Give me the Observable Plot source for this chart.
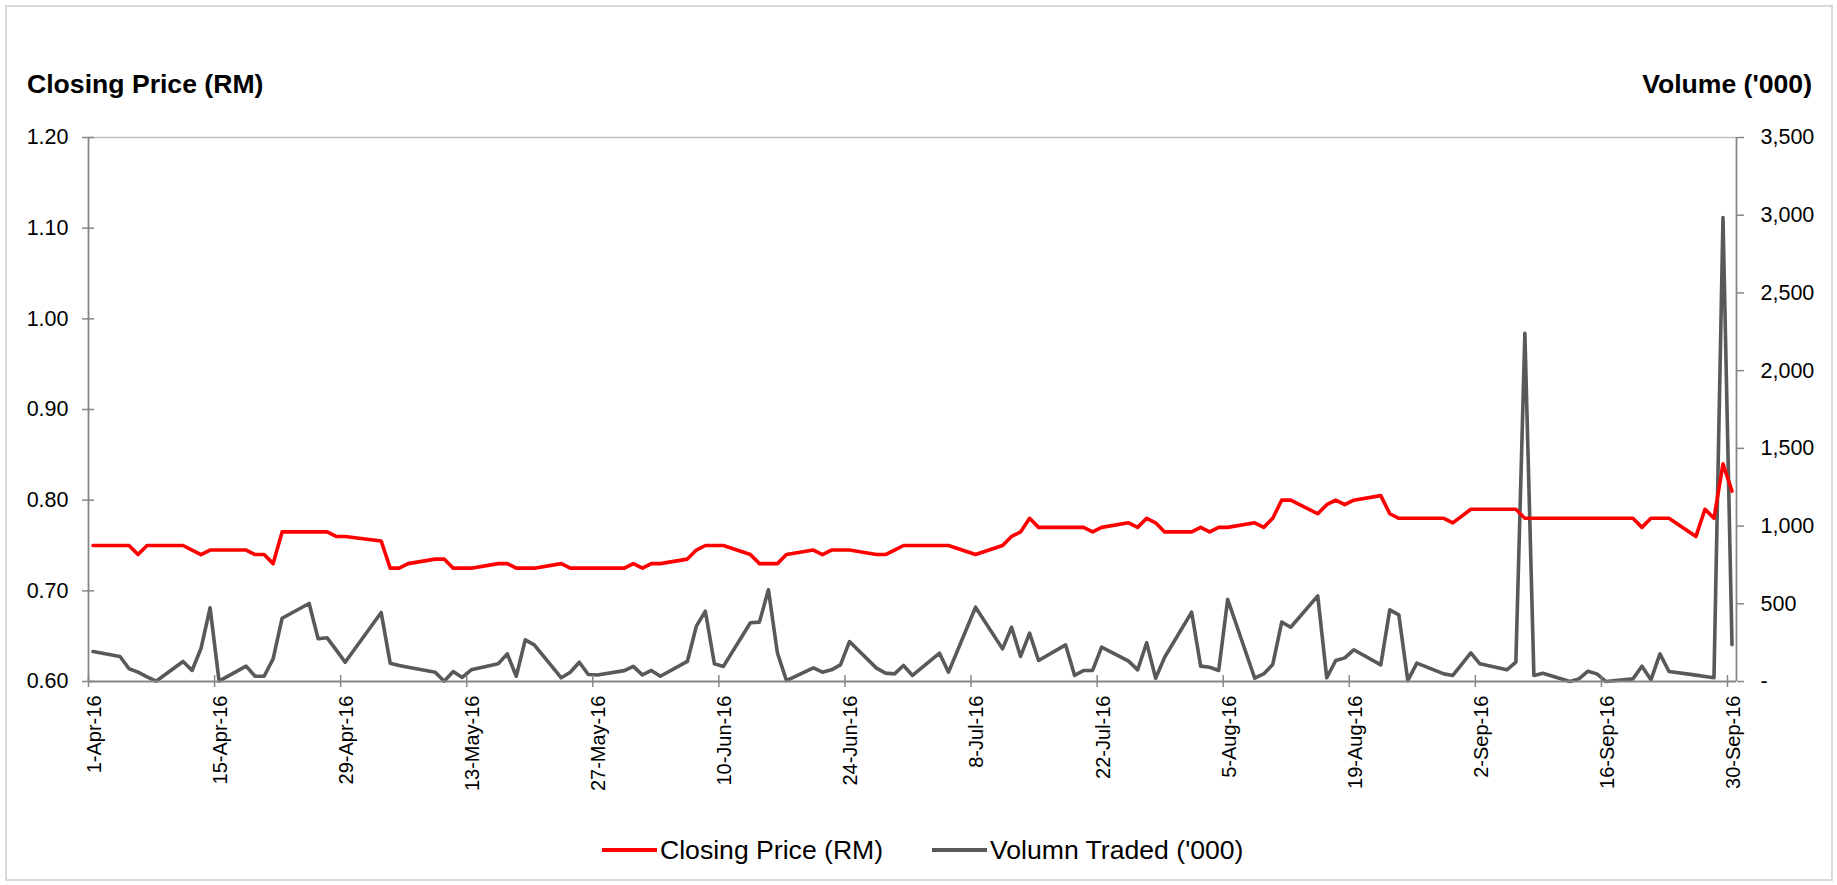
<!DOCTYPE html>
<html>
<head>
<meta charset="utf-8">
<script src="https://cdn.jsdelivr.net/npm/d3@7"></script>
<script src="https://cdn.jsdelivr.net/npm/@observablehq/plot@0.6"></script>
<style>
  html, body { margin: 0; padding: 0; background: #fff; }
  body { font-family: "Liberation Sans", Arial, sans-serif; }
  #wrap { position: relative; width: 1837px; height: 885px; overflow: hidden; }
  #border { position: absolute; left: 5px; top: 5px; width: 1828px; height: 876px; border: 2px solid #d9d9d9; box-sizing: border-box; pointer-events: none; }
  #chart { position: absolute; left: 0; top: 0; }
  .title { position: absolute; font-weight: bold; font-size: 26.6px; line-height: 26px; color: #000; white-space: nowrap; }
  .legend { position: absolute; top: 836px; height: 28px; display: flex; align-items: center; font-size: 26.6px; color: #000; white-space: nowrap; }
  .swatch { display: inline-block; width: 55px; height: 4px; margin-right: 3px; }
</style>
</head>
<body>
<div id="wrap">
  <div id="chart"></div>
  <div class="title" id="tl" style="left:27px; top:71px;"></div>
  <div class="title" id="tr" style="right:25px; top:71px; text-align:right;"></div>
  <div class="legend" id="lg1" style="left:602px;"></div>
  <div class="legend" id="lg2" style="left:932px;"></div>
  <div id="border"></div>
</div>
<script>
// ---------- data ----------
const leftTitle = "Closing Price (RM)";
const rightTitle = "Volume ('000)";
const seriesNames = ["Closing Price (RM)", "Volumn Traded ('000)"];
const seriesColors = ["#ff0000", "#595959"];

const dates = [
  "2016-04-01","2016-04-04","2016-04-05","2016-04-06","2016-04-07","2016-04-08",
  "2016-04-11","2016-04-12","2016-04-13","2016-04-14","2016-04-15",
  "2016-04-18","2016-04-19","2016-04-20","2016-04-21","2016-04-22",
  "2016-04-25","2016-04-26","2016-04-27","2016-04-28","2016-04-29",
  "2016-05-03","2016-05-04","2016-05-05","2016-05-06",
  "2016-05-09","2016-05-10","2016-05-11","2016-05-12","2016-05-13",
  "2016-05-16","2016-05-17","2016-05-18","2016-05-19","2016-05-20",
  "2016-05-23","2016-05-24","2016-05-25","2016-05-26","2016-05-27",
  "2016-05-30","2016-05-31","2016-06-01","2016-06-02","2016-06-03",
  "2016-06-06","2016-06-07","2016-06-08","2016-06-09","2016-06-10",
  "2016-06-13","2016-06-14","2016-06-15","2016-06-16","2016-06-17",
  "2016-06-20","2016-06-21","2016-06-22","2016-06-23","2016-06-24",
  "2016-06-27","2016-06-28","2016-06-29","2016-06-30","2016-07-01",
  "2016-07-04","2016-07-05","2016-07-08",
  "2016-07-11","2016-07-12","2016-07-13","2016-07-14","2016-07-15",
  "2016-07-18","2016-07-19","2016-07-20","2016-07-21","2016-07-22",
  "2016-07-25","2016-07-26","2016-07-27","2016-07-28","2016-07-29",
  "2016-08-01","2016-08-02","2016-08-03","2016-08-04","2016-08-05",
  "2016-08-08","2016-08-09","2016-08-10","2016-08-11","2016-08-12",
  "2016-08-15","2016-08-16","2016-08-17","2016-08-18","2016-08-19",
  "2016-08-22","2016-08-23","2016-08-24","2016-08-25","2016-08-26",
  "2016-08-29","2016-08-30","2016-09-01","2016-09-02",
  "2016-09-05","2016-09-06","2016-09-07","2016-09-08","2016-09-09",
  "2016-09-12","2016-09-13","2016-09-14","2016-09-15","2016-09-16",
  "2016-09-19","2016-09-20","2016-09-21","2016-09-22","2016-09-23",
  "2016-09-26","2016-09-27","2016-09-28","2016-09-29","2016-09-30"
];

const closingPrice = [
  0.75,0.75,0.75,0.74,0.75,0.75,
  0.75,0.745,0.74,0.745,0.745,
  0.745,0.74,0.74,0.73,0.765,
  0.765,0.765,0.765,0.76,0.76,
  0.755,0.725,0.725,0.73,
  0.735,0.735,0.725,0.725,0.725,
  0.73,0.73,0.725,0.725,0.725,
  0.73,0.725,0.725,0.725,0.725,
  0.725,0.73,0.725,0.73,0.73,
  0.735,0.745,0.75,0.75,0.75,
  0.74,0.73,0.73,0.73,0.74,
  0.745,0.74,0.745,0.745,0.745,
  0.74,0.74,0.745,0.75,0.75,
  0.75,0.75,0.74,
  0.75,0.76,0.765,0.78,0.77,
  0.77,0.77,0.77,0.765,0.77,
  0.775,0.77,0.78,0.775,0.765,
  0.765,0.77,0.765,0.77,0.77,
  0.775,0.77,0.78,0.80,0.80,
  0.785,0.795,0.80,0.795,0.80,
  0.805,0.785,0.78,0.78,0.78,
  0.78,0.775,0.79,0.79,
  0.79,0.79,0.78,0.78,0.78,
  0.78,0.78,0.78,0.78,0.78,
  0.78,0.77,0.78,0.78,0.78,
  0.76,0.79,0.78,0.84,0.81
];

const volumeTraded = [
  193,161,82,60,30,2,
  129,71,214,474,2,
  99,34,34,146,407,
  502,275,281,204,124,
  444,118,103,92,
  60,2,64,26,75,
  114,178,34,268,236,
  24,60,124,45,42,
  70,97,43,71,34,
  129,356,452,114,97,
  378,382,590,184,6,
  88,60,75,107,257,
  86,54,49,103,39,
  182,60,478,
  210,349,161,311,135,
  236,39,71,71,221,
  131,75,249,21,156,
  446,99,92,71,528,
  21,49,109,382,349,
  551,24,135,152,204,
  107,461,429,6,118,
  49,39,184,114,
  75,124,2240,39,53,
  0,17,66,49,0,
  17,98,11,178,64,
  41,32,24,2985,236
];

const priceTicks = [0.60, 0.70, 0.80, 0.90, 1.00, 1.10, 1.20];
const volumeTicks = [0, 500, 1000, 1500, 2000, 2500, 3000, 3500];
const dateTicks = ["2016-04-01","2016-04-15","2016-04-29","2016-05-13","2016-05-27","2016-06-10",
  "2016-06-24","2016-07-08","2016-07-22","2016-08-05","2016-08-19","2016-09-02","2016-09-16","2016-09-30"];
const dateDomain = ["2016-04-01", "2016-10-01"];

// ---------- build ----------
const priceMin = priceTicks[0], priceMax = priceTicks[priceTicks.length - 1];
const volMax = volumeTicks[volumeTicks.length - 1];
const volToY = v => priceMin + v / volMax * (priceMax - priceMin);
const yToVol = y => Math.round((y - priceMin) / (priceMax - priceMin) * volMax);
const dayStart = s => new Date(s + "T00:00:00Z");
const dayMid = s => new Date(s + "T12:00:00Z");

const table = dates.map((d, i) => ({date: dayMid(d), price: closingPrice[i], vol: volumeTraded[i], volY: volToY(volumeTraded[i])}));
const xTicks = dateTicks.map(dayStart);
const xDom = dateDomain.map(dayStart);
const fmtDate = d3.utcFormat("%-d-%b-%y");
const fmtVol = v => v === 0 ? "-" : d3.format(",")(v);
const axisGray = "#868686";

const chart = Plot.plot({
  width: 1837,
  height: 885,
  marginTop: 137,
  marginBottom: 204,
  marginLeft: 88,
  marginRight: 101,
  style: {fontFamily: "'Liberation Sans', Arial, sans-serif", fontSize: "20px", color: "#000", background: "transparent", overflow: "visible"},
  x: {type: "utc", domain: xDom},
  y: {domain: [priceMin, priceMax]},
  marks: [
    Plot.ruleY([priceMax], {stroke: "#c0c0c0", strokeWidth: 1.5}),
    Plot.lineY(table, {x: "date", y: "volY", stroke: seriesColors[1], strokeWidth: 3.6, strokeLinejoin: "round"}),
    Plot.lineY(table, {x: "date", y: "price", stroke: seriesColors[0], strokeWidth: 3.6, strokeLinejoin: "round"}),
    Plot.ruleX([xDom[0], xDom[1]], {stroke: axisGray, strokeWidth: 1.8}),
    Plot.ruleY([priceMin], {stroke: axisGray, strokeWidth: 1.8}),
    Plot.axisY({anchor: "left", ticks: priceTicks, tickSize: 12, dx: 6, tickPadding: 14, tickFormat: d3.format(".2f"), stroke: axisGray, strokeWidth: 1.5, fill: "#000", fontSize: 21.5, label: null}),
    Plot.axisY({anchor: "right", ticks: volumeTicks.map(volToY), tickSize: 7, tickPadding: 17, tickFormat: y => fmtVol(yToVol(y)), stroke: axisGray, strokeWidth: 1.5, fill: "#000", fontSize: 21.5, label: null}),
    Plot.axisX({anchor: "bottom", ticks: xTicks, tickSize: 12, dy: -6, fill: "none", stroke: axisGray, strokeWidth: 1.5, label: null, tickFormat: () => ""}),
    Plot.axisX({anchor: "bottom", ticks: xTicks, tickSize: 0, tickPadding: 14, dx: 6, tickRotate: -90, tickFormat: fmtDate, fill: "#000", fontSize: 20, label: null})
  ]
});
document.getElementById("chart").appendChild(chart);

document.getElementById("tl").textContent = leftTitle;
document.getElementById("tr").textContent = rightTitle;
[["lg1", 0], ["lg2", 1]].forEach(([id, i]) => {
  const el = document.getElementById(id);
  const sw = document.createElement("span");
  sw.className = "swatch";
  sw.style.background = seriesColors[i];
  el.appendChild(sw);
  const t = document.createElement("span");
  t.textContent = seriesNames[i];
  el.appendChild(t);
});
</script>
</body>
</html>
